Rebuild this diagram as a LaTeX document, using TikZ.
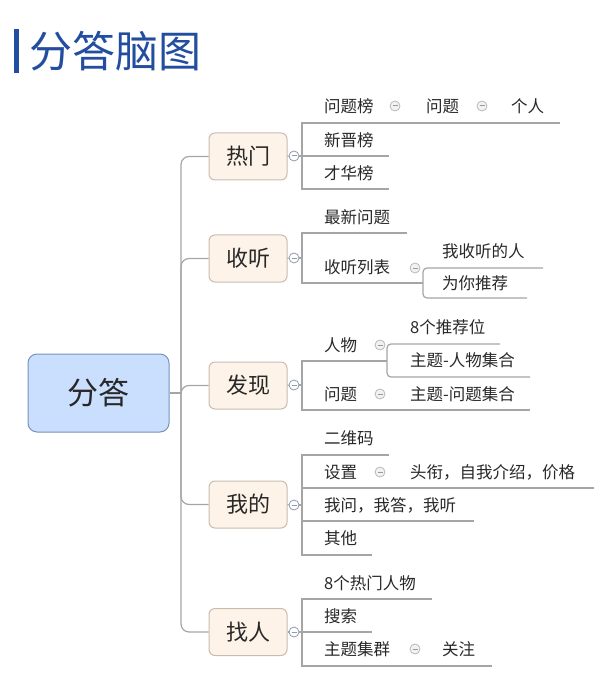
\documentclass[tikz,border=0pt]{standalone}
\usepackage{fontspec}
\setmainfont{Noto Sans CJK SC}
\usetikzlibrary{positioning}

\definecolor{titleblue}{RGB}{35,78,160}
\definecolor{rootfill}{RGB}{202,222,254}
\definecolor{rootline}{RGB}{120,145,190}
\definecolor{topicfill}{RGB}{253,243,232}
\definecolor{topicline}{RGB}{200,188,176}
\definecolor{linkgray}{RGB}{165,165,165}
\definecolor{textdark}{RGB}{40,40,40}
\definecolor{toggleline}{RGB}{140,155,175}

\begin{document}
\begin{tikzpicture}[
  x=1pt, y=-1pt,
  root/.style={draw=rootline, fill=rootfill, rounded corners=9pt, line width=1pt,
    minimum width=141pt, minimum height=78pt, font=\fontsize{31}{31}\selectfont, text=textdark},
  topic/.style={draw=topicline, fill=topicfill, rounded corners=6pt, line width=1pt,
    minimum width=78pt, minimum height=47pt, font=\fontsize{22}{22}\selectfont, text=textdark},
  item/.style={anchor=west, inner sep=0pt, font=\fontsize{16.5}{16.5}\selectfont, text=textdark},
  tog/.style={circle, draw=toggleline, fill=white, line width=0.8pt, minimum size=10pt, inner sep=0pt,
    path picture={\draw[toggleline, line width=1pt]
      ([xshift=-2.5pt]path picture bounding box.center) -- ([xshift=2.5pt]path picture bounding box.center);}},
  subtog/.style={tog, fill=gray!10, draw=gray!55},
  link/.style={draw=linkgray, line width=1.2pt}
]
\useasboundingbox (0,0) rectangle (600,684);

% title
\fill[titleblue] (14,29) rectangle (19,73);
\node[anchor=west, inner sep=0pt, text=titleblue, font=\fontsize{43}{43}\selectfont] (title) at (29,51) {分答脑图};

% root and main topics
\node[root] (root) at (98.5,393) {分答};
\node[topic] (hot) at (248,156.5) {热门};
\node[topic] (listen) at (248,258.5) {收听};
\node[topic] (find) at (248,385.5) {发现};
\node[topic] (mine) at (248,504.5) {我的};
\node[topic] (people) at (248,632) {找人};

\coordinate (hub) at (181,393);
\draw[link] (root.east) -- (hub);
\foreach \t in {hot,listen,find,mine,people}
  \draw[link, rounded corners=8pt] (hub) |- (\t.west);

% toggles on the topics
\node[tog] (hotT) at (294,156) {};
\node[tog] (listenT) at (294,258) {};
\node[tog] (findT) at (294,385) {};
\node[tog] (mineT) at (294,505) {};
\node[tog] (peopleT) at (294,632) {};
\foreach \t in {hot,listen,find,mine,people}
  \draw[link] (\t.east) -- (\t T.west);

% 热门
\draw[link] (hotT.east) -- (302,156) -- (389,156);
\draw[link] (560,123) -- (302,123) -- (302,189) -- (389,189);
\node[item] (hot1) at (324,106) {问题榜};
\node[subtog] (hot1T) at (395,106) {};
\node[item] (hot1a) at (426,106) {问题};
\node[subtog] (hot1aT) at (482,106) {};
\node[item] (hot1b) at (511,106) {个人};
\node[item] (hot2) at (324,140) {新晋榜};
\node[item] (hot3) at (324,173) {才华榜};

% 收听
\draw[link] (listenT.east) -- (302,258);
\draw[link] (407,233) -- (302,233) -- (302,283) -- (423,283);
\draw[link, rounded corners=4pt] (543,268) -- (423,268) -- (423,298) -- (527,298);
\node[item] (listen1) at (324,217) {最新问题};
\node[item] (listen2) at (324,267) {收听列表};
\node[subtog] (listen2T) at (415,268) {};
\node[item] (listen2a) at (442,251) {我收听的人};
\node[item] (listen2b) at (442,283) {为你推荐};

% 发现
\draw[link] (findT.east) -- (302,385);
\draw[link] (387,361) -- (302,361) -- (302,410) -- (530,410);
\draw[link, rounded corners=4pt] (500,344) -- (387,344) -- (387,377) -- (530,377);
\node[item] (find1) at (324,345) {人物};
\node[subtog] (find1T) at (380,345) {};
\node[item] (find1a) at (410,327) {8个推荐位};
\node[item] (find1b) at (410,360) {主题-人物集合};
\node[item] (find2) at (324,394) {问题};
\node[subtog] (find2T) at (380,394) {};
\node[item] (find2a) at (410,394) {主题-问题集合};

% 我的
\draw[link] (mineT.east) -- (302,505);
\draw[link] (389,455) -- (302,455) -- (302,555) -- (372,555);
\draw[link] (302,488) -- (594,488);
\draw[link] (302,521) -- (474,521);
\node[item] (mine1) at (324,438) {二维码};
\node[item] (mine2) at (324,472) {设置};
\node[subtog] (mine2T) at (380,472) {};
\node[item] (mine2a) at (410,472) {头衔，自我介绍，价格};
\node[item] (mine3) at (324,505) {我问，我答，我听};
\node[item] (mine4) at (324,538) {其他};

% 找人
\draw[link] (peopleT.east) -- (302,632) -- (372,632);
\draw[link] (432,599) -- (302,599) -- (302,666) -- (492,666);
\node[item] (people1) at (324,583) {8个热门人物};
\node[item] (people2) at (324,616) {搜索};
\node[item] (people3) at (324,649) {主题集群};
\node[subtog] (people3T) at (415,649) {};
\node[item] (people3a) at (442,649) {关注};
\end{tikzpicture}
\end{document}
